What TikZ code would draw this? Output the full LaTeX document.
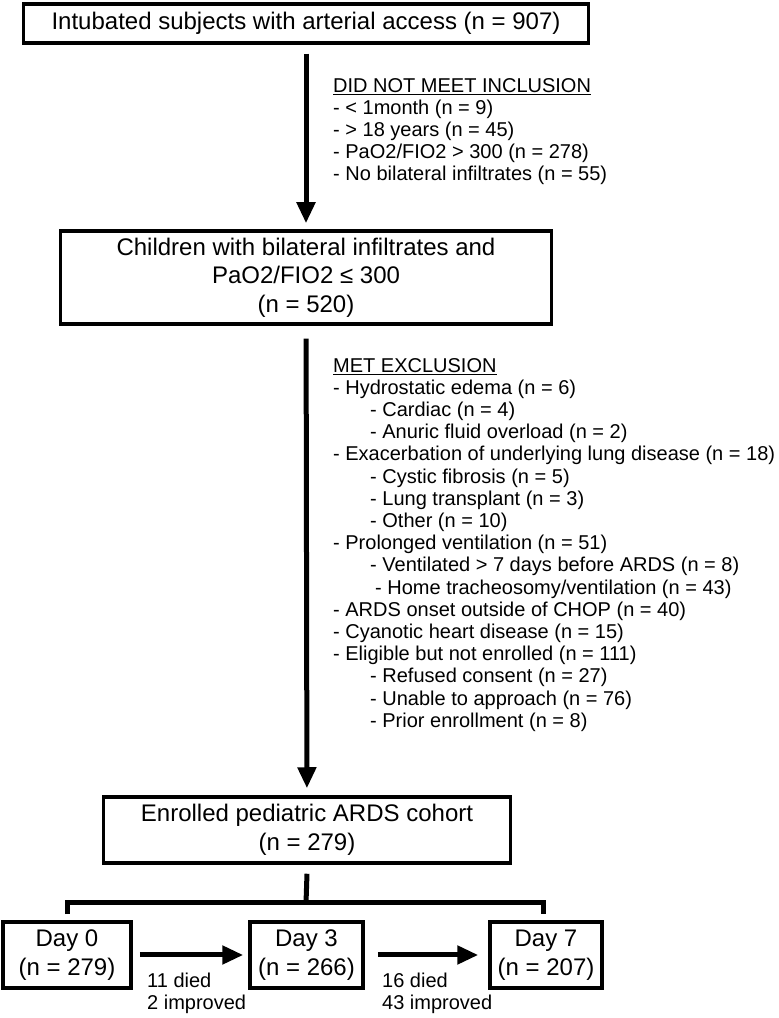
\documentclass[tikz,border=0pt]{standalone}
\usepackage{fontspec}
\setmainfont{Liberation Sans}
\usetikzlibrary{arrows.meta}

\newcommand{\subind}{\hspace*{37pt}}

\begin{document}
\begin{tikzpicture}[x=1pt,y=1pt,
    box/.style={draw, line width=3.5pt, inner sep=0pt, align=center, font=\fontsize{24}{28.5}\selectfont},
    list/.style={inner sep=0pt, align=left, anchor=north west, font=\fontsize{20}{22.2}\selectfont},
    flow/.style={line width=5pt, ->, >={Triangle[length=21pt,width=18pt]}},
    ]
    \useasboundingbox (0,0) rectangle (779,1018);
    \node[box, minimum width=565pt, minimum height=39pt] (subjects) at (306,994.5) {Intubated subjects with arterial access (n = 907)};
    \node[box, minimum width=491pt, minimum height=93pt] (children) at (306,740.5) {Children with bilateral infiltrates and\\PaO2/FIO2 ≤ 300\\(n = 520)};
    \node[box, minimum width=407pt, minimum height=66pt] (cohort) at (307,188) {Enrolled pediatric ARDS cohort\\(n = 279)};
    \node[box, minimum width=128pt, minimum height=66pt] (day0) at (67,63) {Day 0\\(n = 279)};
    \node[box, minimum width=113pt, minimum height=66pt] (day3) at (306.5,63) {Day 3\\(n = 266)};
    \node[box, minimum width=112pt, minimum height=66pt] (day7) at (546,63) {Day 7\\(n = 207)};

    \draw[flow, shorten <=9pt, shorten >=6pt] (subjects) -- (children);
    \draw[flow, shorten <=13pt, shorten >=7pt] (children) -- (cohort);
    \draw[flow, shorten <=7pt, shorten >=5pt] (day0) -- (day3);
    \draw[flow, shorten <=13pt, shorten >=10pt] (day3) -- (day7);

    \coordinate (bar) at (306,115);
    \draw[line width=5pt] ([yshift=-9pt]cohort.south) -- (bar);
    \draw[line width=5pt] ([yshift=6pt]day0.north) -- (day0.north |- bar) -- ([xshift=-3pt]day7.north |- bar) -- ([xshift=-3pt,yshift=6pt]day7.north);

    \node[list] (inclusion) at (333,940) {\underline{DID NOT MEET INCLUSION}\\
        - < 1month (n = 9)\\
        - > 18 years (n = 45)\\
        - PaO2/FIO2 > 300 (n = 278)\\
        - No bilateral infiltrates (n = 55)};
    \node[list] (exclusion) at (333,660) {\underline{MET EXCLUSION}\\
        - Hydrostatic edema (n = 6)\\
        \subind- Cardiac (n = 4)\\
        \subind- Anuric fluid overload (n = 2)\\
        - Exacerbation of underlying lung disease (n = 18)\\
        \subind- Cystic fibrosis (n = 5)\\
        \subind- Lung transplant (n = 3)\\
        \subind- Other (n = 10)\\
        - Prolonged ventilation (n = 51)\\
        \subind- Ventilated > 7 days before ARDS (n = 8)\\
        \hspace*{42pt}- Home tracheosomy/ventilation (n = 43)\\
        - ARDS onset outside of CHOP (n = 40)\\
        - Cyanotic heart disease (n = 15)\\
        - Eligible but not enrolled (n = 111)\\
        \subind- Refused consent (n = 27)\\
        \subind- Unable to approach (n = 76)\\
        \subind- Prior enrollment (n = 8)};

    \node[list, anchor=west] (change1) at (147,25) {11 died\\2 improved};
    \node[list, anchor=west] (change2) at (382,25) {16 died\\43 improved};
\end{tikzpicture}
\end{document}
